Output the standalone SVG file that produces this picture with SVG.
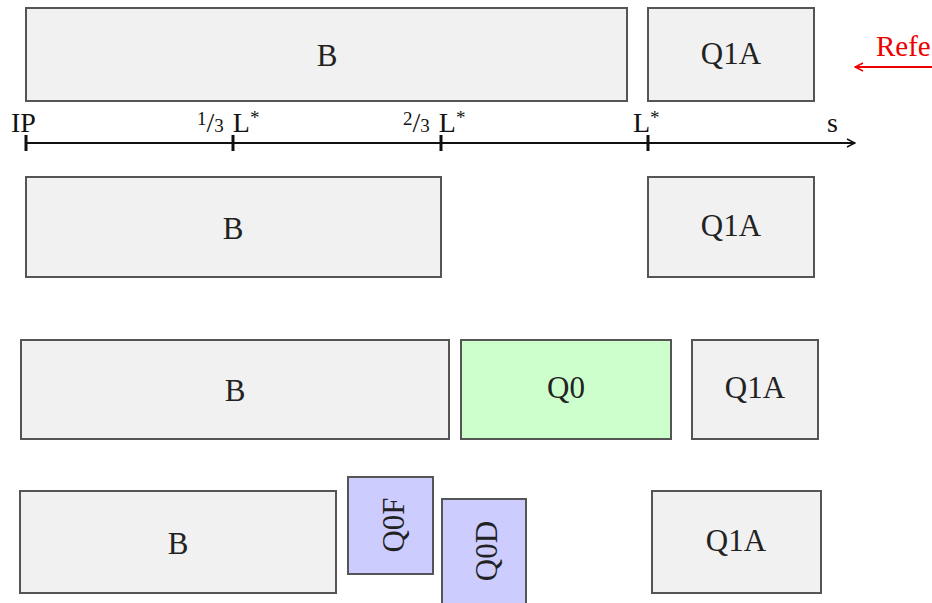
<svg xmlns="http://www.w3.org/2000/svg" width="932" height="603" viewBox="0 0 932 603">
  <defs>
    <style>
      .box { fill: #f1f1f1; stroke: #555; stroke-width: 2; }
      .q0 { fill: #ccffcc; stroke: #555; stroke-width: 2; }
      .quad { fill: #ccccff; stroke: #555; stroke-width: 2; }
      .lbl { font-family: "Liberation Serif", "DejaVu Serif", serif; font-size: 31px; fill: #222; text-anchor: middle; dominant-baseline: central; }
      .ax { font-family: "Liberation Serif", "DejaVu Serif", serif; font-size: 28px; fill: #111; }
      .sm { font-size: 19px; }
      .axis { stroke: #111; stroke-width: 2; fill: none; }
      .tick { stroke: #111; stroke-width: 3; }
      .ref { stroke: #e00; stroke-width: 2; fill: none; }
    </style>
    <marker id="arr" viewBox="0 0 10 10" refX="9" refY="5" markerWidth="10" markerHeight="10" markerUnits="userSpaceOnUse" orient="auto">
      <path d="M1,1 L9,5 L1,9" fill="none" stroke="#111" stroke-width="1.5"/>
    </marker>
    <marker id="arrRed" viewBox="0 0 10 10" refX="9" refY="5" markerWidth="10" markerHeight="10" markerUnits="userSpaceOnUse" orient="auto">
      <path d="M1,1 L9,5 L1,9" fill="none" stroke="#e00" stroke-width="1.5"/>
    </marker>
  </defs>
  <rect width="932" height="603" fill="#fff"/>

  <!-- Row 1: reference layout -->
  <g id="r1-B"><rect class="box" x="26" y="8" width="601" height="93"/><text class="lbl" x="327" y="55">B</text></g>
  <g id="r1-Q1A"><rect class="box" x="648" y="8" width="166" height="93"/><text class="lbl" x="731" y="53">Q1A</text></g>

  <!-- Reference pointer -->
  <g id="ref-note">
    <line class="ref" x1="940" y1="67" x2="855" y2="67" marker-end="url(#arrRed)"/>
    <text class="ax" x="876" y="56" style="fill:#e00;font-size:29px">Refe</text>
  </g>

  <!-- Longitudinal axis -->
  <g id="connectors">
    <line class="axis" x1="26" y1="143" x2="855" y2="143" marker-end="url(#arr)"/>
    <line class="tick" x1="26" y1="135" x2="26" y2="151"/>
    <line class="tick" x1="233" y1="135" x2="233" y2="151"/>
    <line class="tick" x1="441" y1="135" x2="441" y2="151"/>
    <line class="tick" x1="648" y1="135" x2="648" y2="151"/>
  </g>
  <g id="axis-labels">
    <text class="ax" x="11" y="132">IP</text>
    <text class="ax" x="197" y="132"><tspan class="sm" dy="-7">1</tspan><tspan dy="7">/</tspan><tspan class="sm" dy="0">3</tspan><tspan dx="2"> L</tspan><tspan class="sm" dy="-8">*</tspan></text>
    <text class="ax" x="403" y="132"><tspan class="sm" dy="-7">2</tspan><tspan dy="7">/</tspan><tspan class="sm" dy="0">3</tspan><tspan dx="2"> L</tspan><tspan class="sm" dy="-8">*</tspan></text>
    <text class="ax" x="633" y="132">L<tspan class="sm" dy="-8">*</tspan></text>
    <text class="ax" x="827" y="132">s</text>
  </g>

  <!-- Row 2 -->
  <g id="r2-B"><rect class="box" x="26" y="177" width="415" height="100"/><text class="lbl" x="233" y="228">B</text></g>
  <g id="r2-Q1A"><rect class="box" x="648" y="177" width="166" height="100"/><text class="lbl" x="731" y="225">Q1A</text></g>

  <!-- Row 3 -->
  <g id="r3-B"><rect class="box" x="21" y="340" width="428" height="99"/><text class="lbl" x="235" y="390">B</text></g>
  <g id="r3-Q0"><rect class="q0" x="461" y="340" width="210" height="99"/><text class="lbl" x="566" y="387">Q0</text></g>
  <g id="r3-Q1A"><rect class="box" x="692" y="340" width="126" height="99"/><text class="lbl" x="755" y="387">Q1A</text></g>

  <!-- Row 4 -->
  <g id="r4-B"><rect class="box" x="20" y="491" width="316" height="102"/><text class="lbl" x="178" y="543">B</text></g>
  <g id="r4-Q0F"><rect class="quad" x="348" y="477" width="85" height="97"/><text class="lbl" transform="translate(393 525) rotate(-90)" x="0" y="0">Q0F</text></g>
  <g id="r4-Q0D"><rect class="quad" x="442" y="499" width="84" height="110"/><text class="lbl" transform="translate(486 551) rotate(-90)" x="0" y="0">Q0D</text></g>
  <g id="r4-Q1A"><rect class="box" x="652" y="491" width="169" height="102"/><text class="lbl" x="736" y="540">Q1A</text></g>
</svg>
